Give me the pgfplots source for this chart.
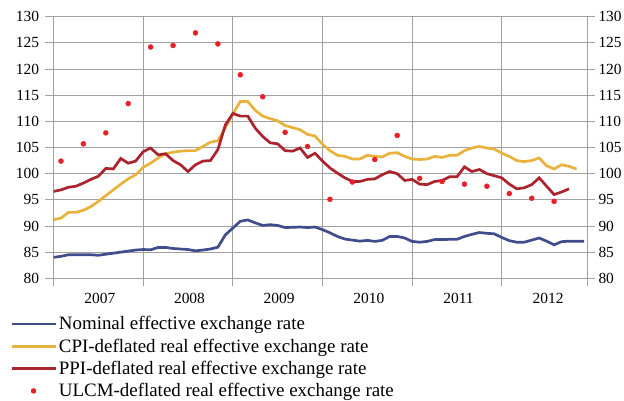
\documentclass[border=0pt]{standalone}
\usepackage{fontspec}
\setmainfont{Liberation Serif}
\usepackage{pgfplots}
\pgfplotsset{compat=1.18}
\usepackage{pgfplotstable}
\definecolor{nomcol}{RGB}{64,77,140}
\definecolor{cpicol}{RGB}{233,178,60}
\definecolor{ppicol}{RGB}{170,35,45}
\definecolor{ulccol}{RGB}{232,30,40}
\definecolor{gridcol}{RGB}{160,160,160}

\pgfplotstableread{
k v
0 84.0
1 84.2
2 84.5
3 84.5
4 84.5
5 84.5
6 84.4
7 84.6
8 84.8
9 85.0
10 85.2
11 85.4
12 85.5
13 85.45
14 85.9
15 85.9
16 85.7
17 85.6
18 85.5
19 85.25
20 85.4
21 85.6
22 85.95
23 88.3
24 89.6
25 90.9
26 91.15
27 90.6
28 90.1
29 90.25
30 90.1
31 89.7
32 89.75
33 89.8
34 89.7
35 89.8
36 89.3
37 88.7
38 88.0
39 87.5
40 87.3
41 87.1
42 87.25
43 87.05
44 87.25
45 88.0
46 88.0
47 87.7
48 87.05
49 86.9
50 87.05
51 87.4
52 87.4
53 87.45
54 87.45
55 88.0
56 88.4
57 88.75
58 88.6
59 88.5
60 87.8
61 87.2
62 86.9
63 86.9
64 87.3
65 87.7
66 87.1
67 86.4
68 87.0
69 87.1
70 87.1
71 87.1
}\nominal

\pgfplotstableread{
k v
0 91.2
1 91.5
2 92.6
3 92.6
4 93.0
5 93.7
6 94.7
7 95.8
8 96.9
9 98.0
10 99.0
11 99.8
12 101.2
13 102.0
14 103.0
15 103.8
16 104.1
17 104.3
18 104.4
19 104.4
20 105.2
21 106.0
22 106.3
23 108.8
24 111.4
25 113.8
26 113.8
27 112.1
28 111.0
29 110.5
30 110.1
31 109.2
32 108.8
33 108.4
34 107.5
35 107.2
36 105.6
37 104.4
38 103.5
39 103.3
40 102.8
41 102.8
42 103.5
43 103.3
44 103.2
45 103.9
46 104.0
47 103.3
48 102.8
49 102.7
50 102.8
51 103.3
52 103.1
53 103.5
54 103.5
55 104.4
56 104.9
57 105.2
58 104.9
59 104.7
60 103.9
61 103.3
62 102.5
63 102.3
64 102.5
65 103.0
66 101.5
67 100.9
68 101.7
69 101.4
70 100.9
}\cpi

\pgfplotstableread{
k v
0 96.6
1 96.9
2 97.4
3 97.6
4 98.2
5 98.9
6 99.5
7 101.0
8 100.9
9 102.9
10 102.0
11 102.4
12 104.2
13 104.9
14 103.6
15 103.8
16 102.5
17 101.7
18 100.4
19 101.7
20 102.4
21 102.5
22 104.6
23 109.3
24 111.5
25 111.0
26 111.0
27 108.7
28 107.1
29 105.9
30 105.7
31 104.4
32 104.3
33 104.9
34 103.1
35 103.9
36 102.4
37 101.1
38 100.1
39 99.2
40 98.5
41 98.5
42 98.9
43 99.0
44 99.8
45 100.4
46 100.0
47 98.7
48 98.9
49 98.0
50 97.9
51 98.5
52 98.7
53 99.4
54 99.4
55 101.3
56 100.4
57 100.8
58 100.0
59 99.6
60 99.2
61 98.0
62 97.1
63 97.3
64 97.9
65 99.2
66 97.6
67 96.0
68 96.5
69 97.1
}\ppi

\pgfplotstableread{
k v
1 102.4
4 105.7
7 107.8
10 113.4
13 124.2
16 124.5
19 126.9
22 124.8
25 118.9
28 114.7
31 107.9
34 105.2
37 95.1
40 98.4
43 102.7
46 107.3
49 99.1
52 98.5
55 98.0
58 97.6
61 96.2
64 95.3
67 94.7
}\ulcm

\begin{document}
\begin{tikzpicture}
\pgfplotsset{
  common/.style={
    at={(53.5bp,122.7bp)}, anchor=south west,
    scale only axis, width=533.5bp, height=261.6bp,
    xmin=0, xmax=71.4, ymin=80, ymax=130,
    ytick={80,85,...,130},
    /pgf/number format/assume math mode=true,
    yticklabel={\pgfmathprintnumber{\tick}},
    tick label style={font=\fontsize{15.5}{18}\selectfont, color=black},
  }
}
\begin{axis}[common,
  axis line style={draw=gridcol, line width=0.8bp},
  grid=major, grid style={draw=gridcol, line width=0.8bp},
  tick style={draw=gridcol, line width=0.8bp},
  tick align=outside, major tick length=8bp,
  ytick pos=both, yticklabel pos=left,
  yticklabel style={xshift=-3bp},
  xtick={0,12,24,36,48,60,71.4}, xticklabels={}, xtick pos=bottom,
  extra x ticks={6.2,18.2,30.2,42.2,54.2,66.2},
  extra x tick labels={2007,2008,2009,2010,2011,2012},
  extra x tick style={major tick length=0pt, grid=none,
    xticklabel style={yshift=-11bp}},
  legend style={at={(-0.0815,-0.138)}, anchor=north west, draw=none, fill=none,
    font=\fontsize{19}{22.5}\selectfont, row sep=3.5bp,
    inner sep=0pt, cells={anchor=west}},
  legend cell align=left,
  legend image code/.code={\draw[mark repeat=2,mark phase=2,#1] plot coordinates {(0bp,0bp) (22bp,0bp) (44bp,0bp)};},
]
\addplot[nomcol, line width=2.7bp] table[x=k,y=v] {\nominal};
\addlegendentry{Nominal effective exchange rate}
\addplot[cpicol, line width=2.7bp] table[x=k,y=v] {\cpi};
\addlegendentry{CPI-deflated real effective exchange rate}
\addplot[ppicol, line width=2.7bp] table[x=k,y=v] {\ppi};
\addlegendentry{PPI-deflated real effective exchange rate}
\addplot[only marks, mark=*, mark size=2.5bp, ulccol, mark options={draw=ulccol, fill=ulccol}] table[x=k,y=v] {\ulcm};
\addlegendentry{ULCM-deflated real effective exchange rate}
\end{axis}
\begin{axis}[common,
  axis x line=none, axis y line*=right,
  axis line style={draw=none},
  major tick length=0pt,
  xtick=\empty,
  yticklabel style={xshift=8bp},
]
\addplot[draw=none] coordinates {(0,80)};
\end{axis}
\pgfresetboundingbox
\path[use as bounding box] (0bp,0bp) rectangle (624bp,401bp);
\end{tikzpicture}
\end{document}
